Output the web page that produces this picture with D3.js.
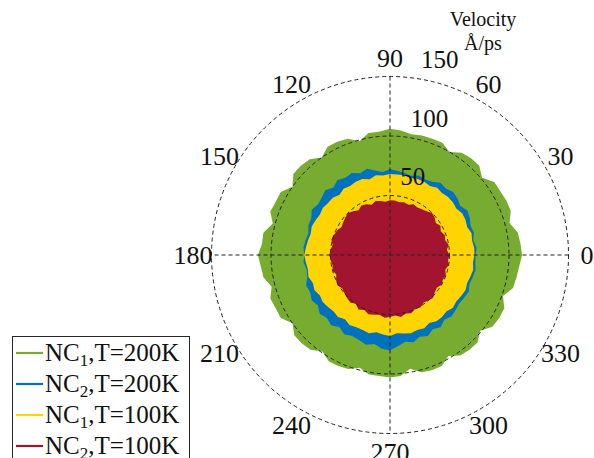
<!DOCTYPE html>
<html>
<head>
<meta charset="utf-8">
<script src="https://cdn.jsdelivr.net/npm/d3@7"></script>
<style>
  body { margin: 0; background: #fff; }
  text { font-family: "Liberation Serif", "DejaVu Serif", serif; fill: #111; }
</style>
</head>
<body>
<div id="vis"></div>
<script>
// angulos cada 5 grados (0..355)
const ANGLES = d3.range(0, 360, 5);

// velocidades (A/ps)
const NC1_200 = [111,110,109,104,108,108,107,107,101,106,106,105,100,104,104,104,103,105,106,104,
                 104,99,104,105,105,100,105,106,106,100,106,106,107,102,108,108,111,109,108,103,
                 107,106,106,100,105,105,104,99,103,103,102,98,102,102,103,102,97,102,103,103,
                 98,103,104,104,99,105,106,106,101,107,108,109];
const NC2_200 = [72,73,71,73,72,74,75,72,74,75,73,74,71,70,71,69,70,71,72,70,
                 72,75,73,76,75,77,74,77,75,74,76,73,73,71,72,73,72,73,71,72,
                 75,74,76,74,77,75,77,74,77,75,76,78,76,79,80,77,74,76,73,75,
                 72,74,71,73,72,71,72,73,71,72,73,72];
const NC1_100 = [71,71,70,71,69,70,70,68,69,69,68,69,67,68,68,67,68,68,68,67,
                 68,66,68,68,67,68,66,68,68,69,68,69,70,69,70,71,72,71,70,71,
                 69,70,68,69,68,67,68,66,68,67,67,68,66,67,68,66,67,68,67,68,
                 66,68,68,67,69,68,69,70,69,70,71,70];
const NC2_100 = [50,48,50,48,49,47,49,47,49,50,48,47,46,47,45,46,45,46,46,45,
                 46,47,45,47,48,46,48,50,49,48,47,49,50,51,49,50,51,50,49,50,
                 48,50,51,49,50,51,52,50,53,51,53,52,51,53,52,51,53,51,52,50,
                 51,49,50,51,49,48,50,49,50,48,50,49];

const SERIES_NAMES = ["NC1,T=200K", "NC2,T=200K", "NC1,T=100K", "NC2,T=100K"];
const SERIES_VALUES = [NC1_200, NC2_200, NC1_100, NC2_100];
const COLORS = ["#77AC30", "#0072BD", "#FFD400", "#A2142F"];

const R_TICKS = [50, 100, 150];
const THETA_TICKS = d3.range(0, 360, 30);

const WIDTH = 594;
const HEIGHT = 458;
const CX = 390, CY = 255, R_MAX = 178.5;
const FONT = "'Liberation Serif', 'DejaVu Serif', serif";

const SVG = d3.select("#vis").append("svg")
    .attr("width", WIDTH).attr("height", HEIGHT);

const r = d3.scaleLinear().domain([0, 150]).range([0, R_MAX]);
// angulo en grados -> radianes para d3 (0 arriba, horario)
const ang = d3.scaleLinear().domain([0, 360]).range([Math.PI / 2, Math.PI / 2 - 2 * Math.PI]);

const g = SVG.append("g").attr("transform", `translate(${CX},${CY})`);

// areas
const line = d3.lineRadial()
    .angle(d => ang(d[0]))
    .radius(d => r(d[1]))
    .curve(d3.curveLinearClosed);

SERIES_VALUES.forEach((vals, i) => {
    g.append("path")
        .datum(ANGLES.map((a, j) => [a, vals[j]]))
        .attr("d", line)
        .attr("fill", COLORS[i])
        .attr("stroke", "none");
});

// grilla
const grid = g.append("g")
    .attr("fill", "none")
    .attr("stroke", "#222")
    .attr("stroke-width", 1)
    .attr("stroke-dasharray", "4,3");

grid.selectAll("circle").data(R_TICKS).join("circle").attr("r", d => r(d));

grid.selectAll("line").data([0, 90]).join("line")
    .attr("x1", d => r(150) * Math.cos(d * Math.PI / 180))
    .attr("y1", d => -r(150) * Math.sin(d * Math.PI / 180))
    .attr("x2", d => -r(150) * Math.cos(d * Math.PI / 180))
    .attr("y2", d => r(150) * Math.sin(d * Math.PI / 180));

// etiquetas de angulo
g.selectAll(".theta").data(THETA_TICKS).join("text")
    .attr("class", "theta")
    .attr("x", d => (R_MAX + 18.5) * Math.cos(d * Math.PI / 180))
    .attr("y", d => -(R_MAX + 18.5) * Math.sin(d * Math.PI / 180))
    .attr("text-anchor", "middle")
    .attr("dominant-baseline", "central")
    .attr("font-family", FONT)
    .style("font-size", "26px")
    .text(d => d);

// etiquetas radiales
const RA = 80 * Math.PI / 180;
g.selectAll(".rtick").data(R_TICKS).join("text")
    .attr("class", "rtick")
    .attr("x", d => r(d) * Math.cos(RA))
    .attr("y", d => -r(d) * Math.sin(RA) - 11)
    .attr("font-family", FONT)
    .style("font-size", "25px")
    .text(d => d);

// titulo del eje
SVG.append("text").attr("x", 483).attr("y", 26).attr("text-anchor", "middle")
    .attr("font-family", FONT).style("font-size", "20px").text("Velocity");
SVG.append("text").attr("x", 483).attr("y", 50).attr("text-anchor", "middle")
    .attr("font-family", FONT).style("font-size", "20px").text("Å/ps");

// leyenda
const leg = SVG.append("g");
leg.append("rect")
    .attr("x", 12.5).attr("y", 336.5).attr("width", 177).attr("height", 140)
    .attr("fill", "#fff").attr("stroke", "#262626").attr("stroke-width", 1);

const LEG_Y = [353, 384, 415, 446];
SERIES_NAMES.forEach((name, i) => {
    leg.append("line")
        .attr("x1", 16).attr("x2", 43)
        .attr("y1", LEG_Y[i]).attr("y2", LEG_Y[i])
        .attr("stroke", COLORS[i]).attr("stroke-width", 2.2);
    const t = leg.append("text").attr("x", 45).attr("y", LEG_Y[i] + 8)
        .attr("font-family", FONT).style("font-size", "25px");
    t.append("tspan").text("NC");
    t.append("tspan").attr("dy", 5).style("font-size", "17px").text(name.slice(2, 3));
    t.append("tspan").attr("dy", -5).text(name.slice(3));
});
</script>
</body>
</html>
